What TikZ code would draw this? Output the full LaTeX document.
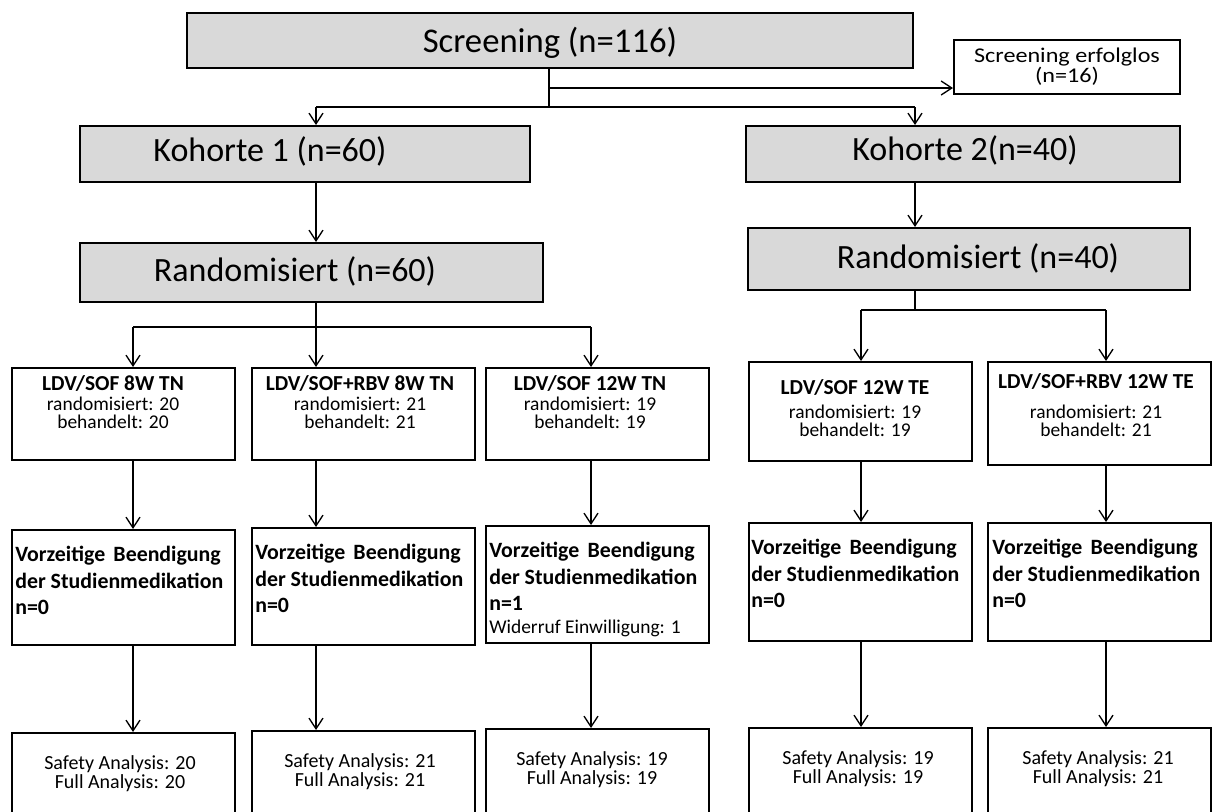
\documentclass[tikz,border=0pt]{standalone}
\usepackage{fontspec}
\setmainfont{Carlito}
\newfontfamily\widefont[FakeStretch=1.15]{Carlito}
\usetikzlibrary{arrows.meta}
\definecolor{boxgray}{HTML}{D9D9D9}
\tikzset{
  frame/.style={draw,line width=1.5pt,inner sep=0pt},
  grayframe/.style={frame,fill=boxgray},
  col/.style={frame,minimum width=167.25pt},
  link/.style={line width=1pt},
  arr/.style={line width=1pt,-{Straight Barb[length=8pt,width=10.5pt,line width=1pt]}},
  big/.style={font=\fontsize{25.5}{30}\selectfont},
  grp/.style={align=center,font=\fontsize{14.6}{13.5}\selectfont},
  stop/.style={align=left,anchor=north west,inner sep=0pt,
    font=\bfseries\fontsize{16.4}{20}\selectfont},
  res/.style={align=center,font=\fontsize{15}{14.25}\selectfont}
}
\newcommand{\grptitle}[1]{{\bfseries\fontsize{16}{16}\selectfont #1}}
\newcommand{\stopgap}{Vorzeitige\hspace{0.15em} Beendigung\\der Studienmedikation}

\begin{document}
\begin{tikzpicture}[x=0.75pt,y=-0.75pt]
  \useasboundingbox (0,0) rectangle (1212,811);
  \clip (0,0) rectangle (1212,811);

  % screening and cohorts
  \node[grayframe,minimum width=544.5pt,minimum height=41.25pt] (scr) at (550,40.5) {};
  \node[font=\fontsize{26}{30}\selectfont] (scrt) at (550,43) {Screening (n=116)};
  \node[frame,minimum width=169.5pt,minimum height=40.5pt,align=center,
    font=\widefont\fontsize{15.75}{15}\selectfont] (erf) at (1067,67) {Screening erfolglos\\(n=16)};
  \node[grayframe,minimum width=337.5pt,minimum height=42pt] (k1) at (305,154) {};
  \node[big] (k1t) at (270,151) {Kohorte 1 (n=60)};
  \node[grayframe,minimum width=325.5pt,minimum height=42pt] (k2) at (963,154) {};
  \node[big] (k2t) at (965,150) {Kohorte 2(n=40)};
  \node[grayframe,minimum width=347.25pt,minimum height=44.25pt] (r1) at (311.5,272.5) {};
  \node[big] (r1t) at (295,271) {Randomisiert (n=60)};
  \node[grayframe,minimum width=331.5pt,minimum height=46.5pt] (r2) at (969,259) {};
  \node[big] (r2t) at (978,258) {Randomisiert (n=40)};

  % treatment arms
  \node[col,minimum height=69pt] (a1) at (123.5,414) {};
  \node[col,minimum height=69pt] (a2) at (363.5,414) {};
  \node[col,minimum height=69pt] (a3) at (597,414) {};
  \node[col,minimum height=74.25pt] (a4) at (860.5,411.5) {};
  \node[col,minimum height=77.25pt] (a5) at (1099.5,413.5) {};
  \node[grp] (a1t) at (113,402) {\grptitle{LDV/SOF 8W TN}\\[2pt]randomisiert: 20\\behandelt: 20};
  \node[grp] (a2t) at (360,402) {\grptitle{LDV/SOF+RBV 8W TN}\\[2pt]randomisiert: 21\\behandelt: 21};
  \node[grp] (a3t) at (590,402) {\grptitle{LDV/SOF 12W TN}\\[2pt]randomisiert: 19\\behandelt: 19};
  \node[grp] (a4t) at (855,408) {\grptitle{LDV/SOF 12W TE}\\[5pt]randomisiert: 19\\behandelt: 19};
  \node[grp] (a5t) at (1096,405) {\grptitle{LDV/SOF+RBV 12W TE}\\[9pt]randomisiert: 21\\behandelt: 21};

  % discontinuation
  \node[col,minimum height=86.25pt] (v1) at (123.5,587.5) {};
  \node[col,minimum height=87.75pt] (v2) at (363.5,586.5) {};
  \node[col,minimum height=87.75pt] (v3) at (597,584.5) {};
  \node[col,minimum height=88.5pt] (v4) at (860.5,582) {};
  \node[col,minimum height=88.5pt] (v5) at (1099.5,582) {};
  \node[stop] (v1t) at (15,546) {\stopgap\\n=0};
  \node[stop] (v2t) at (255,544) {\stopgap\\n=0};
  \node[stop] (v3t) at (489,542) {\stopgap\\n=1\\[-3pt]
    {\mdseries\fontsize{14.6}{16}\selectfont Widerruf Einwilligung: 1}};
  \node[stop] (v4t) at (751,539) {\stopgap\\n=0};
  \node[stop] (v5t) at (992,539) {\stopgap\\n=0};

  % analysis sets
  \node[col,minimum height=72.75pt] (s1) at (123.5,781.5) {};
  \node[col,minimum height=74.25pt] (s2) at (363.5,780.5) {};
  \node[col,minimum height=75.75pt] (s3) at (597,779.5) {};
  \node[col,minimum height=76.5pt] (s4) at (860.5,779) {};
  \node[col,minimum height=76.5pt] (s5) at (1099.5,779) {};
  \node[res] (s1t) at (120,774) {Safety Analysis: 20\\Full Analysis: 20};
  \node[res] (s2t) at (360,772) {Safety Analysis: 21\\Full Analysis: 21};
  \node[res] (s3t) at (592,770) {Safety Analysis: 19\\Full Analysis: 19};
  \node[res] (s4t) at (858,769) {Safety Analysis: 19\\Full Analysis: 19};
  \node[res] (s5t) at (1098,769) {Safety Analysis: 21\\Full Analysis: 21};

  % connectors
  \coordinate (sp) at (549,107);
  \coordinate (ex) at (549,88);
  \coordinate (kl) at (316,107);
  \coordinate (kr) at (915,107);
  \draw[link] (scr.south -| sp) -- (sp);
  \draw[arr] (ex) -- (erf.west |- ex);
  \draw[link] (kl) -- (kr);
  \draw[arr] (kl) -- (k1.north -| kl);
  \draw[arr] (kr) -- (k2.north -| kr);

  \coordinate (j1) at (133,327);
  \coordinate (j2) at (316,327);
  \coordinate (j3) at (591,327);
  \coordinate (m2) at (915,310);
  \coordinate (j4) at (861,310);
  \coordinate (j5) at (1106,310);
  \draw[arr] (k1.south -| j2) -- (r1.north -| j2);
  \draw[arr] (k2.south -| m2) -- (r2.north -| m2);
  \draw[link] (r1.south -| j2) -- (j2);
  \draw[link] (j1) -- (j3);
  \draw[link] (r2.south -| m2) -- (m2);
  \draw[link] (j4) -- (j5);

  \draw[arr] (j1) -- (a1.north -| j1);
  \draw[arr] (j2) -- (a2.north -| j2);
  \draw[arr] (j3) -- (a3.north -| j3);
  \draw[arr] (j4) -- (a4.north -| j4);
  \draw[arr] (j5) -- (a5.north -| j5);

  \draw[arr] (a1.south -| j1) -- (v1.north -| j1);
  \draw[arr] (a2.south -| j2) -- (v2.north -| j2);
  \draw[arr] (a3.south -| j3) -- (v3.north -| j3);
  \draw[arr] (a4.south -| j4) -- (v4.north -| j4);
  \draw[arr] (a5.south -| j5) -- (v5.north -| j5);

  \draw[arr] (v1.south -| j1) -- (s1.north -| j1);
  \draw[arr] (v2.south -| j2) -- (s2.north -| j2);
  \draw[arr] (v3.south -| j3) -- (s3.north -| j3);
  \draw[arr] (v4.south -| j4) -- (s4.north -| j4);
  \draw[arr] (v5.south -| j5) -- (s5.north -| j5);
\end{tikzpicture}
\end{document}
